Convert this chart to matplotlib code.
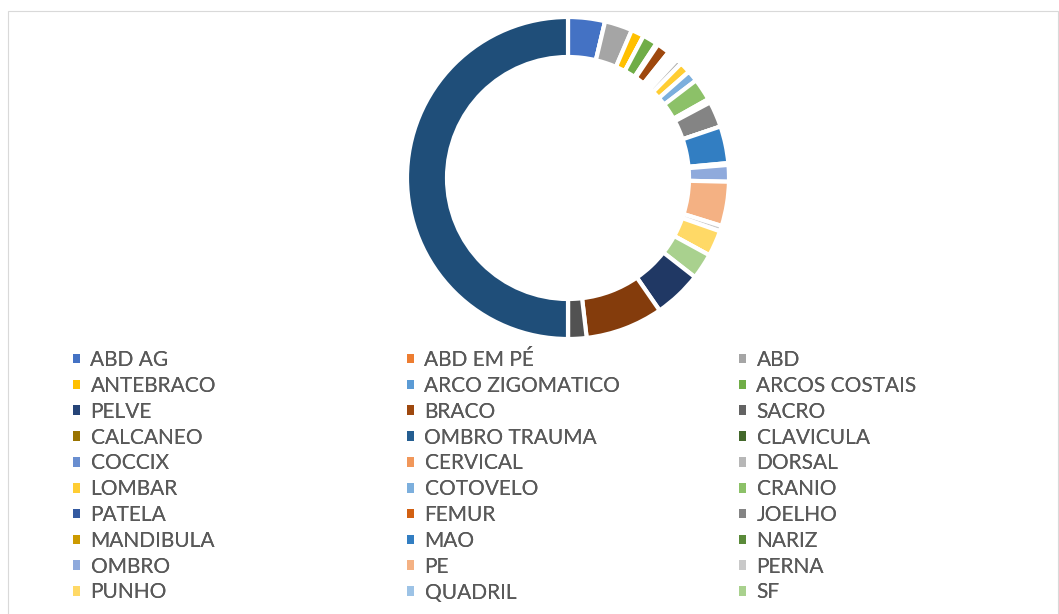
import matplotlib.pyplot as plt
from matplotlib.patches import Patch, Rectangle

# legend names (data order, as Excel lists them row by row)
categories = ["ABD AG", "ABD EM PÉ", "ABD", "ANTEBRACO", "ARCO ZIGOMATICO", "ARCOS COSTAIS",
              "PELVE", "BRACO", "SACRO", "CALCANEO", "OMBRO TRAUMA", "CLAVICULA",
              "COCCIX", "CERVICAL", "DORSAL", "LOMBAR", "COTOVELO", "CRANIO",
              "PATELA", "FEMUR", "JOELHO", "MANDIBULA", "MAO", "NARIZ",
              "OMBRO", "PE", "PERNA", "PUNHO", "QUADRIL", "SF"]
counts = [20, 0, 15, 7, 0, 8,
          1, 7, 1, 1, 1, 1,
          1, 1, 3, 6, 6, 12,
          1, 1, 14, 0, 20, 1,
          9, 24, 3, 14, 0, 14]
# series after the 30th one: their legend rows fall below the cropped chart
extra_counts = [26, 42, 10, 0, 270]

# Office palette, series 1..35
colors = ["#4472C4", "#ED7D31", "#A5A5A5", "#FFC000", "#5B9BD5", "#70AD47",
          "#264478", "#9E480E", "#636363", "#997300", "#255E91", "#43682B",
          "#698ED0", "#F1975A", "#B7B7B7", "#FFCD33", "#7CAFDD", "#8CC168",
          "#335AA1", "#D26012", "#848484", "#CC9A00", "#327EC2", "#5A8A39",
          "#8FAADC", "#F4B183", "#C9C9C9", "#FFD966", "#9DC3E6", "#A9D18E",
          "#203864", "#843C0C", "#525252", "#7F6000", "#1F4E79"]

W, H = 1059, 614
fig = plt.figure(figsize=(W / 100, H / 100), dpi=100)

# chart area border (bottom edge is outside the crop)
fig.patches.append(Rectangle((7.5 / W, -0.05), (1057.5 - 7.5) / W, (H - 10.5) / H + 0.05,
                             transform=fig.transFigure, fill=False,
                             edgecolor="#D9D9D9", linewidth=0.8))

# donut
cx, cy, R = 568, 178, 161
ax = fig.add_axes([(cx - R) / W, (H - cy - R) / H, 2 * R / W, 2 * R / H])
ax.pie(counts + extra_counts, colors=colors, startangle=90, counterclock=False,
       radius=1, wedgeprops=dict(width=40 / R, edgecolor="white", linewidth=3.0))
ax.set_xlim(-1, 1)
ax.set_ylim(-1, 1)
ax.set_aspect("equal")
ax.axis("off")

# legend, 3 columns filled row-wise
handles = [Patch(facecolor=c, edgecolor="none") for c in colors[:len(categories)]]
col_x = [73, 407, 739]
for j in range(3):
    idx = list(range(j, len(categories), 3))
    leg = fig.legend([handles[i] for i in idx], [categories[i] for i in idx],
                     loc="upper left", bbox_to_anchor=(col_x[j] / W, 1 - 350 / H),
                     frameon=False, borderpad=0, borderaxespad=0,
                     handlelength=0.34, handleheight=0.34, handletextpad=0.5,
                     labelspacing=0.28, labelcolor="#595959",
                     prop=dict(family="Lato", size=15))
    fig.add_artist(leg)

fig.savefig("out.png", dpi=100, facecolor="white")
